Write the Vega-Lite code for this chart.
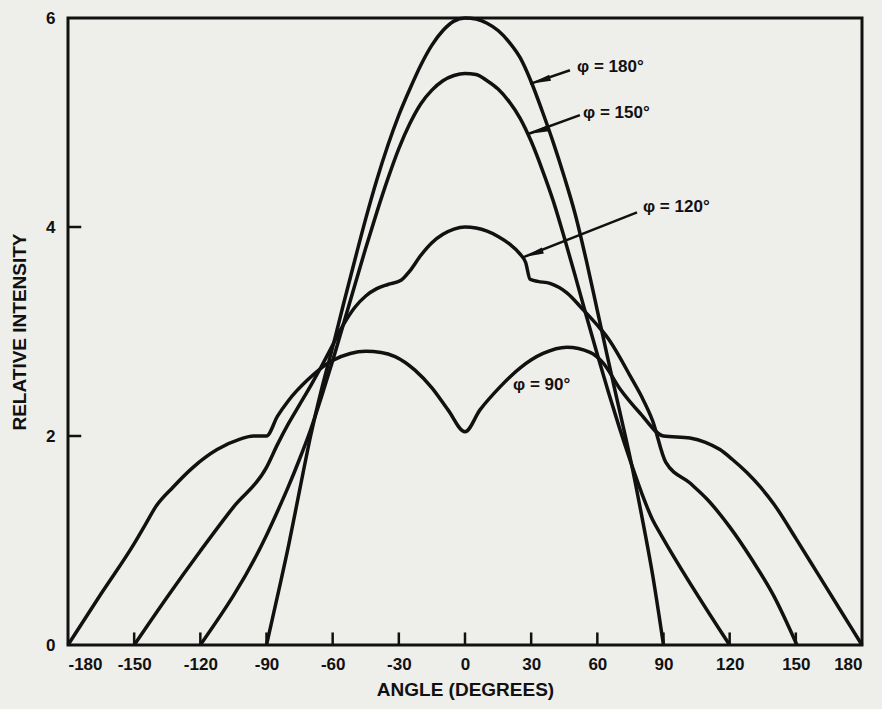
{
  "$schema": "https://vega.github.io/schema/vega-lite/v6.json",
  "width": 794,
  "height": 627,
  "autosize": {"type": "none"},
  "padding": {"left": 68, "top": 18, "right": 20, "bottom": 64},
  "background": "#eeeeeb",
  "config": {
    "view": {"stroke": "#111111", "strokeWidth": 3},
    "font": "Liberation Sans",
    "axis": {
      "domain": false,
      "grid": false,
      "ticks": false,
      "tickSize": 0,
      "labelFont": "Liberation Sans",
      "labelFontWeight": "bold",
      "labelFontSize": 17,
      "labelColor": "#111111",
      "titleFont": "Liberation Sans",
      "titleFontWeight": "bold",
      "titleFontSize": 19,
      "titleColor": "#111111"
    }
  },
  "datasets": {
    "curves": [
      {"phi": "90", "angle": -180, "intensity": 0},
      {"phi": "90", "angle": -165, "intensity": 0.49},
      {"phi": "90", "angle": -150, "intensity": 0.97},
      {"phi": "90", "angle": -145, "intensity": 1.15},
      {"phi": "90", "angle": -140, "intensity": 1.33},
      {"phi": "90", "angle": -132.4, "intensity": 1.51},
      {"phi": "90", "angle": -123.3, "intensity": 1.70},
      {"phi": "90", "angle": -112.4, "intensity": 1.87},
      {"phi": "90", "angle": -102, "intensity": 1.97},
      {"phi": "90", "angle": -96, "intensity": 2.0},
      {"phi": "90", "angle": -90, "intensity": 2.0},
      {"phi": "90", "angle": -85, "intensity": 2.19},
      {"phi": "90", "angle": -80, "intensity": 2.34},
      {"phi": "90", "angle": -71.2, "intensity": 2.54},
      {"phi": "90", "angle": -60.3, "intensity": 2.72},
      {"phi": "90", "angle": -52, "intensity": 2.79},
      {"phi": "90", "angle": -45, "intensity": 2.81},
      {"phi": "90", "angle": -38, "intensity": 2.80},
      {"phi": "90", "angle": -31.7, "intensity": 2.76},
      {"phi": "90", "angle": -22.7, "intensity": 2.63},
      {"phi": "90", "angle": -15, "intensity": 2.46},
      {"phi": "90", "angle": -7.7, "intensity": 2.25},
      {"phi": "90", "angle": 0, "intensity": 2.04},
      {"phi": "90", "angle": 6.8, "intensity": 2.25},
      {"phi": "90", "angle": 15.9, "intensity": 2.47},
      {"phi": "90", "angle": 24.9, "intensity": 2.65},
      {"phi": "90", "angle": 35.4, "intensity": 2.79},
      {"phi": "90", "angle": 46.2, "intensity": 2.85},
      {"phi": "90", "angle": 56.7, "intensity": 2.80},
      {"phi": "90", "angle": 62.6, "intensity": 2.70},
      {"phi": "90", "angle": 70.3, "intensity": 2.45},
      {"phi": "90", "angle": 79.3, "intensity": 2.22},
      {"phi": "90", "angle": 90, "intensity": 2.0},
      {"phi": "90", "angle": 102, "intensity": 1.98},
      {"phi": "90", "angle": 109, "intensity": 1.94},
      {"phi": "90", "angle": 115.6, "intensity": 1.87},
      {"phi": "90", "angle": 121, "intensity": 1.78},
      {"phi": "90", "angle": 127.8, "intensity": 1.65},
      {"phi": "90", "angle": 134, "intensity": 1.51},
      {"phi": "90", "angle": 140, "intensity": 1.35},
      {"phi": "90", "angle": 150, "intensity": 1.02},
      {"phi": "90", "angle": 160, "intensity": 0.68},
      {"phi": "90", "angle": 170, "intensity": 0.34},
      {"phi": "90", "angle": 180, "intensity": 0},

      {"phi": "120", "angle": -150, "intensity": 0},
      {"phi": "120", "angle": -135, "intensity": 0.46},
      {"phi": "120", "angle": -120, "intensity": 0.9},
      {"phi": "120", "angle": -105, "intensity": 1.32},
      {"phi": "120", "angle": -90, "intensity": 1.70},
      {"phi": "120", "angle": -85, "intensity": 1.92},
      {"phi": "120", "angle": -80, "intensity": 2.12},
      {"phi": "120", "angle": -75, "intensity": 2.30},
      {"phi": "120", "angle": -70, "intensity": 2.48},
      {"phi": "120", "angle": -65, "intensity": 2.67},
      {"phi": "120", "angle": -60, "intensity": 2.87},
      {"phi": "120", "angle": -55, "intensity": 3.07},
      {"phi": "120", "angle": -50, "intensity": 3.23},
      {"phi": "120", "angle": -45, "intensity": 3.34},
      {"phi": "120", "angle": -40, "intensity": 3.41},
      {"phi": "120", "angle": -35, "intensity": 3.45},
      {"phi": "120", "angle": -29, "intensity": 3.49},
      {"phi": "120", "angle": -25, "intensity": 3.58},
      {"phi": "120", "angle": -20, "intensity": 3.73},
      {"phi": "120", "angle": -15, "intensity": 3.85},
      {"phi": "120", "angle": -10, "intensity": 3.93},
      {"phi": "120", "angle": -5, "intensity": 3.98},
      {"phi": "120", "angle": 0, "intensity": 4.0},
      {"phi": "120", "angle": 5, "intensity": 3.99},
      {"phi": "120", "angle": 10, "intensity": 3.96},
      {"phi": "120", "angle": 15, "intensity": 3.91},
      {"phi": "120", "angle": 20, "intensity": 3.84},
      {"phi": "120", "angle": 25, "intensity": 3.74},
      {"phi": "120", "angle": 27.5, "intensity": 3.66},
      {"phi": "120", "angle": 29.5, "intensity": 3.50},
      {"phi": "120", "angle": 33, "intensity": 3.48},
      {"phi": "120", "angle": 38.5, "intensity": 3.46},
      {"phi": "120", "angle": 46.2, "intensity": 3.37},
      {"phi": "120", "angle": 53.5, "intensity": 3.21},
      {"phi": "120", "angle": 60, "intensity": 3.06},
      {"phi": "120", "angle": 65, "intensity": 2.93},
      {"phi": "120", "angle": 70, "intensity": 2.76},
      {"phi": "120", "angle": 75, "intensity": 2.57},
      {"phi": "120", "angle": 80, "intensity": 2.38},
      {"phi": "120", "angle": 85, "intensity": 2.15},
      {"phi": "120", "angle": 91, "intensity": 1.75},
      {"phi": "120", "angle": 102, "intensity": 1.55},
      {"phi": "120", "angle": 110, "intensity": 1.39},
      {"phi": "120", "angle": 120, "intensity": 1.13},
      {"phi": "120", "angle": 130, "intensity": 0.82},
      {"phi": "120", "angle": 140, "intensity": 0.47},
      {"phi": "120", "angle": 150.5, "intensity": 0},

      {"phi": "150", "angle": -120, "intensity": 0},
      {"phi": "150", "angle": -90, "intensity": 1.05},
      {"phi": "150", "angle": -85, "intensity": 1.28},
      {"phi": "150", "angle": -80, "intensity": 1.52},
      {"phi": "150", "angle": -75, "intensity": 1.78},
      {"phi": "150", "angle": -70, "intensity": 2.06},
      {"phi": "150", "angle": -65, "intensity": 2.38},
      {"phi": "150", "angle": -60, "intensity": 2.72},
      {"phi": "150", "angle": -55, "intensity": 3.08},
      {"phi": "150", "angle": -50, "intensity": 3.44},
      {"phi": "150", "angle": -45, "intensity": 3.80},
      {"phi": "150", "angle": -40, "intensity": 4.14},
      {"phi": "150", "angle": -35, "intensity": 4.46},
      {"phi": "150", "angle": -30, "intensity": 4.75},
      {"phi": "150", "angle": -25, "intensity": 4.99},
      {"phi": "150", "angle": -20, "intensity": 5.18},
      {"phi": "150", "angle": -15, "intensity": 5.31},
      {"phi": "150", "angle": -10, "intensity": 5.40},
      {"phi": "150", "angle": -5, "intensity": 5.45},
      {"phi": "150", "angle": 0, "intensity": 5.47},
      {"phi": "150", "angle": 5, "intensity": 5.46},
      {"phi": "150", "angle": 10, "intensity": 5.40},
      {"phi": "150", "angle": 15, "intensity": 5.32},
      {"phi": "150", "angle": 20, "intensity": 5.20},
      {"phi": "150", "angle": 25, "intensity": 5.04},
      {"phi": "150", "angle": 30, "intensity": 4.82},
      {"phi": "150", "angle": 35, "intensity": 4.55},
      {"phi": "150", "angle": 40, "intensity": 4.25},
      {"phi": "150", "angle": 45, "intensity": 3.90},
      {"phi": "150", "angle": 50, "intensity": 3.53},
      {"phi": "150", "angle": 55, "intensity": 3.15},
      {"phi": "150", "angle": 60, "intensity": 2.78},
      {"phi": "150", "angle": 65, "intensity": 2.42},
      {"phi": "150", "angle": 70, "intensity": 2.08},
      {"phi": "150", "angle": 75, "intensity": 1.76},
      {"phi": "150", "angle": 80, "intensity": 1.46},
      {"phi": "150", "angle": 85, "intensity": 1.20},
      {"phi": "150", "angle": 89, "intensity": 1.05},
      {"phi": "150", "angle": 120, "intensity": 0},

      {"phi": "180", "angle": -90, "intensity": 0},
      {"phi": "180", "angle": -85, "intensity": 0.47},
      {"phi": "180", "angle": -80, "intensity": 0.95},
      {"phi": "180", "angle": -75, "intensity": 1.48},
      {"phi": "180", "angle": -70, "intensity": 2.0},
      {"phi": "180", "angle": -65, "intensity": 2.45},
      {"phi": "180", "angle": -60, "intensity": 2.85},
      {"phi": "180", "angle": -55, "intensity": 3.27},
      {"phi": "180", "angle": -50, "intensity": 3.68},
      {"phi": "180", "angle": -45, "intensity": 4.08},
      {"phi": "180", "angle": -40, "intensity": 4.45},
      {"phi": "180", "angle": -35, "intensity": 4.78},
      {"phi": "180", "angle": -30, "intensity": 5.07},
      {"phi": "180", "angle": -25, "intensity": 5.32},
      {"phi": "180", "angle": -20, "intensity": 5.55},
      {"phi": "180", "angle": -15, "intensity": 5.74},
      {"phi": "180", "angle": -10, "intensity": 5.88},
      {"phi": "180", "angle": -5, "intensity": 5.97},
      {"phi": "180", "angle": 0, "intensity": 6.0},
      {"phi": "180", "angle": 5, "intensity": 5.99},
      {"phi": "180", "angle": 10, "intensity": 5.95},
      {"phi": "180", "angle": 15, "intensity": 5.88},
      {"phi": "180", "angle": 20, "intensity": 5.77},
      {"phi": "180", "angle": 25, "intensity": 5.62},
      {"phi": "180", "angle": 30, "intensity": 5.39},
      {"phi": "180", "angle": 35, "intensity": 5.11},
      {"phi": "180", "angle": 40, "intensity": 4.81},
      {"phi": "180", "angle": 45, "intensity": 4.48},
      {"phi": "180", "angle": 50, "intensity": 4.12},
      {"phi": "180", "angle": 55, "intensity": 3.68},
      {"phi": "180", "angle": 60, "intensity": 3.20},
      {"phi": "180", "angle": 65, "intensity": 2.72},
      {"phi": "180", "angle": 70, "intensity": 2.25},
      {"phi": "180", "angle": 75, "intensity": 1.78},
      {"phi": "180", "angle": 80, "intensity": 1.25},
      {"phi": "180", "angle": 85, "intensity": 0.68},
      {"phi": "180", "angle": 90, "intensity": 0}
    ],
    "notes": [
      {"label": "φ = 180°", "tx": 50.8, "ty": 5.53, "sx": 47.6, "sy": 5.50, "ax": 29.5, "ay": 5.37},
      {"label": "φ = 150°", "tx": 53.5, "ty": 5.09, "sx": 52.1, "sy": 5.07, "ax": 28.6, "ay": 4.89},
      {"label": "φ = 120°", "tx": 80.7, "ty": 4.19, "sx": 78.0, "sy": 4.14, "ax": 26.3, "ay": 3.71},
      {"label": "φ = 90°", "tx": 21.8, "ty": 2.49}
    ],
    "xticks": [
      {"angle": -150}, {"angle": -120}, {"angle": -90}, {"angle": -60}, {"angle": -30},
      {"angle": 0}, {"angle": 30}, {"angle": 60}, {"angle": 90}, {"angle": 120}, {"angle": 150}
    ],
    "yticks": [{"intensity": 2}, {"intensity": 4}]
  },
  "layer": [
    {
      "data": {"name": "curves"},
      "mark": {"type": "line", "color": "#111111", "strokeWidth": 3.5, "strokeJoin": "round", "interpolate": "monotone"},
      "encoding": {
        "x": {
          "field": "angle", "type": "quantitative",
          "scale": {"domain": [-180, 180], "nice": false, "zero": false},
          "axis": {
            "values": [-180, -150, -120, -90, -60, -30, 0, 30, 60, 90, 120, 150, 180],
            "labelExpr": "'' + datum.value",
            "labelPadding": 11,
            "title": "ANGLE (DEGREES)",
            "titlePadding": 8
          }
        },
        "y": {
          "field": "intensity", "type": "quantitative",
          "scale": {"domain": [0, 6], "nice": false},
          "axis": {
            "values": [0, 2, 4, 6],
            "labelExpr": "'' + datum.value",
            "labelPadding": 13,
            "title": "RELATIVE INTENSITY",
            "titlePadding": 16
          }
        },
        "detail": {"field": "phi", "type": "nominal"}
      }
    },
    {
      "data": {"name": "xticks"},
      "mark": {"type": "rule", "color": "#111111", "strokeWidth": 2.5},
      "encoding": {
        "x": {"field": "angle", "type": "quantitative"},
        "y": {"datum": 0, "type": "quantitative"},
        "y2": {"datum": 0.12}
      }
    },
    {
      "data": {"name": "yticks"},
      "mark": {"type": "rule", "color": "#111111", "strokeWidth": 2.5},
      "encoding": {
        "y": {"field": "intensity", "type": "quantitative"},
        "x": {"datum": -180, "type": "quantitative"},
        "x2": {"datum": -174}
      }
    },
    {
      "data": {"name": "notes"},
      "transform": [{"filter": "isValid(datum.ax)"}],
      "mark": {"type": "rule", "color": "#111111", "strokeWidth": 2.5},
      "encoding": {
        "x": {"field": "sx", "type": "quantitative"},
        "y": {"field": "sy", "type": "quantitative"},
        "x2": {"field": "ax"},
        "y2": {"field": "ay"}
      }
    },
    {
      "data": {"name": "notes"},
      "transform": [{"filter": "datum.label == 'φ = 180°'"}],
      "mark": {"type": "point", "shape": "M0,0L0.3,2L-0.3,2Z", "filled": true, "color": "#111111", "opacity": 1, "size": 440, "angle": 253},
      "encoding": {
        "x": {"field": "ax", "type": "quantitative"},
        "y": {"field": "ay", "type": "quantitative"}
      }
    },
    {
      "data": {"name": "notes"},
      "transform": [{"filter": "datum.label == 'φ = 150°'"}],
      "mark": {"type": "point", "shape": "M0,0L0.3,2L-0.3,2Z", "filled": true, "color": "#111111", "opacity": 1, "size": 440, "angle": 254},
      "encoding": {
        "x": {"field": "ax", "type": "quantitative"},
        "y": {"field": "ay", "type": "quantitative"}
      }
    },
    {
      "data": {"name": "notes"},
      "transform": [{"filter": "datum.label == 'φ = 120°'"}],
      "mark": {"type": "point", "shape": "M0,0L0.3,2L-0.3,2Z", "filled": true, "color": "#111111", "opacity": 1, "size": 440, "angle": 251},
      "encoding": {
        "x": {"field": "ax", "type": "quantitative"},
        "y": {"field": "ay", "type": "quantitative"}
      }
    },
    {
      "data": {"name": "notes"},
      "mark": {"type": "text", "align": "left", "baseline": "middle", "font": "Liberation Sans", "fontWeight": "bold", "fontSize": 17, "color": "#111111"},
      "encoding": {
        "x": {"field": "tx", "type": "quantitative"},
        "y": {"field": "ty", "type": "quantitative"},
        "text": {"field": "label"}
      }
    }
  ]
}
